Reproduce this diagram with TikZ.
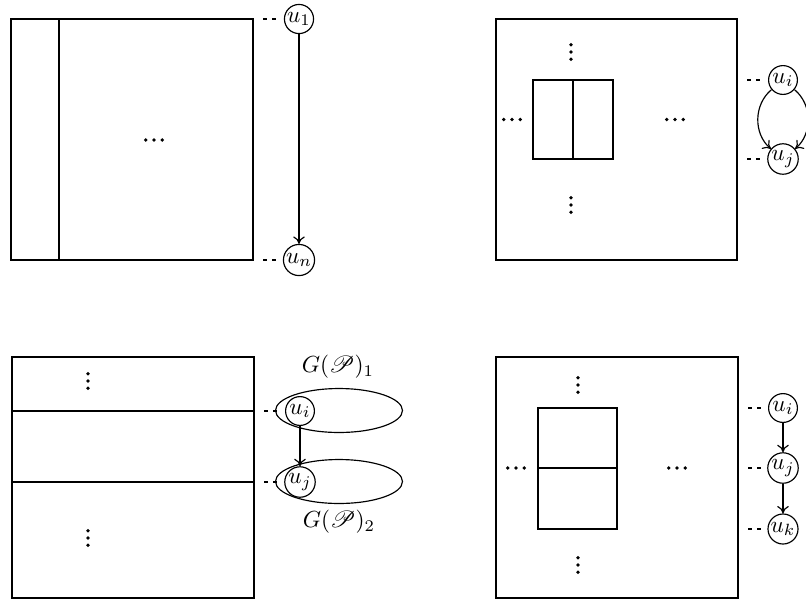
\documentclass[tikz,border=0pt]{standalone}
\usepackage{mathrsfs}
\usetikzlibrary{arrows.meta,shapes.geometric}
\begin{document}
\begin{tikzpicture}[x=0.43pt,y=-0.43pt,
  box/.style={draw, line width=0.5pt},
  vnode/.style={draw, circle, line width=0.5pt, inner sep=0.3pt, minimum size=12.4pt},
  grp/.style={draw, ellipse, line width=0.5pt, inner sep=0pt, minimum width=54.6pt, minimum height=18.9pt},
  link/.style={line width=0.5pt, dash pattern=on 0pt off 4.3pt on 1.7pt off 2.2pt on 1.7pt off 20pt},
  arr/.style={-{To[length=3.2pt,width=5pt]}, line width=0.5pt},
  lab/.style={inner sep=0pt}
]
\useasboundingbox (0,0) rectangle (806,603);

% ---------- Panel 1 ----------
\draw[box] (11,19) rectangle (253,260);
\draw[box] (59,19) -- (59,260);
\foreach \d in {-8.3,0,8.3} \fill (154+\d,140) circle[radius=1.9];
\coordinate (c1a) at (253,19);
\coordinate (c1b) at (253,260);
\node[vnode] (u1) at (299,19) {$u_1$};
\node[vnode] (un) at (299,260) {$u_n$};
\draw[link] (c1a) -- (u1);
\draw[link] (c1b) -- (un);
\draw[arr] (u1) -- (un);

% ---------- Panel 2 ----------
\draw[box] (496,19) rectangle (737,260);
\draw[box] (533,80) rectangle (613,159);
\draw[box] (573,80) -- (573,159);
\foreach \d in {-7.2,0,7.2} {
  \fill (571,52+\d) circle[radius=1.9];
  \fill (571,205+\d) circle[radius=1.9];
}
\foreach \d in {-8.3,0,8.3} {
  \fill (512+\d,119.5) circle[radius=1.9];
  \fill (675+\d,119.5) circle[radius=1.9];
}
\coordinate (c2a) at (737,80);
\coordinate (c2b) at (737,159);
\node[vnode] (ui2) at (783,80) {$u_i$};
\node[vnode] (uj2) at (783,159) {$u_j$};
\draw[link] (c2a) -- (ui2);
\draw[link] (c2b) -- (uj2);
\draw[arr] (ui2) to[bend right=50] (uj2);
\draw[arr] (ui2) to[bend left=50] (uj2);

% ---------- Panel 3 ----------
\draw[box] (12,357) rectangle (254,598);
\draw[box] (12,411) rectangle (254,482);
\foreach \d in {-7.2,0,7.2} {
  \fill (88,381+\d) circle[radius=1.9];
  \fill (88,538+\d) circle[radius=1.9];
}
\node[grp] (E1) at (339,410.5) {};
\node[grp] (E2) at (339,481.5) {};
\node[vnode] (ui3) at (300,411) {$u_i$};
\node[vnode] (uj3) at (300,482) {$u_j$};
\node[lab] (G1) at (338,367) {$G(\mathscr{P})_1$};
\node[lab] (G2) at (339,522) {$G(\mathscr{P})_2$};
\coordinate (c3a) at (254,411);
\coordinate (c3b) at (254,482);
\draw[link] (c3a) -- (ui3);
\draw[link] (c3b) -- (uj3);
\draw[arr] (ui3) -- (uj3);

% ---------- Panel 4 ----------
\draw[box] (496,357) rectangle (738,598);
\draw[box] (538,408) rectangle (617,529);
\draw[box] (538,468) -- (617,468);
\foreach \d in {-7.2,0,7.2} {
  \fill (578,385+\d) circle[radius=1.9];
  \fill (578,565+\d) circle[radius=1.9];
}
\foreach \d in {-8.3,0,8.3} {
  \fill (516+\d,468) circle[radius=1.9];
  \fill (677+\d,468) circle[radius=1.9];
}
\coordinate (c4a) at (738,408);
\coordinate (c4b) at (738,468);
\coordinate (c4c) at (738,529);
\node[vnode] (ui4) at (783,408) {$u_i$};
\node[vnode] (uj4) at (783,468) {$u_j$};
\node[vnode] (uk4) at (783,529) {$u_k$};
\draw[link] (c4a) -- (ui4);
\draw[link] (c4b) -- (uj4);
\draw[link] (c4c) -- (uk4);
\draw[arr] (ui4) -- (uj4);
\draw[arr] (uj4) -- (uk4);
\end{tikzpicture}
\end{document}
